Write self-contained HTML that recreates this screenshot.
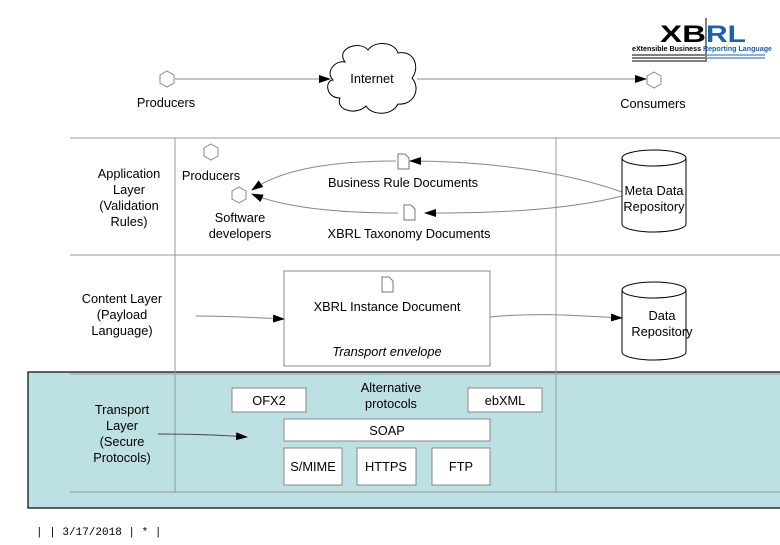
<!DOCTYPE html>
<html><head><meta charset="utf-8"><style>
body{margin:0;background:#fff;width:780px;height:540px;overflow:hidden}
text{font-family:"Liberation Sans",sans-serif;font-size:12.8px;fill:#000}
</style></head><body>
<svg width="780" height="540" viewBox="0 0 780 540" xmlns="http://www.w3.org/2000/svg">
<defs><marker id="a" markerWidth="12" markerHeight="8" refX="11" refY="4" orient="auto" markerUnits="userSpaceOnUse"><path d="M0,0 L12,4 L0,8 z" fill="#000"/></marker></defs>
<rect x="28" y="372" width="760" height="136" fill="#bde0e3" stroke="#000" stroke-width="1.2"/>
<g stroke="#999" stroke-width="1" fill="none">
<line x1="70" y1="138" x2="780" y2="138"/><line x1="70" y1="255" x2="780" y2="255"/>
<line x1="70" y1="374" x2="780" y2="374"/><line x1="70" y1="492" x2="780" y2="492"/>
<line x1="175" y1="138" x2="175" y2="492"/><line x1="556" y1="138" x2="556" y2="492"/>
</g>
<!-- logo -->
<text x="660" y="42" textLength="46" lengthAdjust="spacingAndGlyphs" style="font-size:24px;font-weight:900">XB</text>
<text x="706" y="42" textLength="40" lengthAdjust="spacingAndGlyphs" style="font-size:24px;font-weight:900;fill:#1d5fb0">RL</text>
<line x1="706" y1="18" x2="706" y2="62" stroke="#000"/>
<text x="632" y="51" textLength="140" lengthAdjust="spacingAndGlyphs" style="font-size:7px;font-weight:bold">eXtensible Business <tspan style="fill:#1d5fb0">Reporting Language</tspan></text>
<g stroke="#000"><line x1="632" y1="55" x2="705" y2="55"/><line x1="632" y1="58" x2="705" y2="58"/><line x1="632" y1="61" x2="705" y2="61"/></g>
<g stroke="#1d5fb0"><line x1="707" y1="55" x2="765" y2="55"/><line x1="707" y1="58" x2="765" y2="58"/></g>
<!-- top row -->
<g fill="#fff" stroke="#888">
<polygon points="167,71 174,75 174,83 167,87 160,83 160,75"/>
<polygon points="654,72 661,76 661,84 654,88 647,84 647,76"/>
<polygon points="211,144 218,148 218,156 211,160 204,156 204,148"/>
<polygon points="239,187 246,191 246,199 239,203 232,199 232,191"/>
</g>
<line x1="175" y1="79" x2="330" y2="79" stroke="#888" marker-end="url(#a)"/>
<line x1="417" y1="79" x2="646" y2="79" stroke="#888" marker-end="url(#a)"/>
<path d="M345,62 C335,48 360,40 368,50 C375,40 395,42 398,53 C415,50 420,68 412,78 C422,90 412,106 398,104 C392,116 372,116 366,106 C356,116 335,110 340,98 C325,98 325,80 333,80 C325,72 335,60 345,62 Z" fill="#fff" stroke="#000"/>
<text x="372" y="83" text-anchor="middle">Internet</text>
<text x="166" y="107" text-anchor="middle">Producers</text>
<text x="653" y="108" text-anchor="middle">Consumers</text>
<!-- application layer -->
<text x="129" y="178" text-anchor="middle">Application</text>
<text x="129" y="194" text-anchor="middle">Layer</text>
<text x="129" y="210" text-anchor="middle">(Validation</text>
<text x="129" y="226" text-anchor="middle">Rules)</text>
<text x="211" y="180" text-anchor="middle">Producers</text>
<text x="240" y="222" text-anchor="middle">Software</text>
<text x="240" y="238" text-anchor="middle">developers</text>
<path d="M622,192 C560,170 480,161 410,161" stroke="#888" fill="none" marker-end="url(#a)"/>
<path d="M396,161 C330,161 280,170 252,190" stroke="#888" fill="none" marker-end="url(#a)"/>
<path d="M622,196 C560,212 480,213 425,213" stroke="#888" fill="none" marker-end="url(#a)"/>
<path d="M398,213 C330,213 280,206 252,194" stroke="#888" fill="none" marker-end="url(#a)"/>
<g fill="#fff" stroke="#777">
<path d="M398,154 h7 l4,4 v11 h-11 z"/><path d="M404,205 h7 l4,4 v11 h-11 z"/><path d="M382,277 h7 l4,4 v11 h-11 z"/>
</g>
<text x="403" y="187" text-anchor="middle">Business Rule Documents</text>
<text x="409" y="238" text-anchor="middle">XBRL Taxonomy Documents</text>
<path d="M622,158 v66 a32,8 0 0 0 64,0 v-66 a32,8 0 0 0 -64,0 a32,8 0 0 0 64,0" fill="#fff" stroke="#000"/>
<text x="654" y="195" text-anchor="middle">Meta Data</text>
<text x="654" y="211" text-anchor="middle">Repository</text>
<!-- content layer -->
<text x="122" y="303" text-anchor="middle">Content Layer</text>
<text x="122" y="319" text-anchor="middle">(Payload</text>
<text x="122" y="335" text-anchor="middle">Language)</text>
<rect x="284" y="271" width="206" height="95" fill="#fff" stroke="#888"/>
<path d="M382,277 h7 l4,4 v11 h-11 z" fill="#fff" stroke="#777"/>
<text x="387" y="311" text-anchor="middle">XBRL Instance Document</text>
<text x="387" y="356" text-anchor="middle" font-style="italic">Transport envelope</text>
<path d="M196,316 C230,316 260,318 284,319" stroke="#888" fill="none" marker-end="url(#a)"/>
<path d="M490,317 C540,312 580,316 622,318" stroke="#888" fill="none" marker-end="url(#a)"/>
<path d="M622,290 v62 a32,8 0 0 0 64,0 v-62 a32,8 0 0 0 -64,0 a32,8 0 0 0 64,0" fill="#fff" stroke="#000"/>
<text x="662" y="320" text-anchor="middle">Data</text>
<text x="662" y="336" text-anchor="middle">Repository</text>
<!-- transport -->
<text x="122" y="414" text-anchor="middle">Transport</text>
<text x="122" y="430" text-anchor="middle">Layer</text>
<text x="122" y="446" text-anchor="middle">(Secure</text>
<text x="122" y="462" text-anchor="middle">Protocols)</text>
<path d="M158,434 C190,434 220,435 247,437" stroke="#444" fill="none" marker-end="url(#a)"/>
<g fill="#fff" stroke="#888">
<rect x="232" y="388" width="74" height="24"/><rect x="468" y="388" width="74" height="24"/>
<rect x="284" y="419" width="206" height="22"/>
<rect x="284" y="448" width="58" height="37"/><rect x="357" y="448" width="59" height="37"/><rect x="432" y="448" width="58" height="37"/>
</g>
<text x="269" y="405" text-anchor="middle">OFX2</text>
<text x="505" y="405" text-anchor="middle">ebXML</text>
<text x="391" y="392" text-anchor="middle">Alternative</text>
<text x="391" y="408" text-anchor="middle">protocols</text>
<text x="387" y="435" text-anchor="middle">SOAP</text>
<text x="313" y="471" text-anchor="middle">S/MIME</text>
<text x="386" y="471" text-anchor="middle">HTTPS</text>
<text x="461" y="471" text-anchor="middle">FTP</text>
<text x="36" y="535" style="font-family:'Liberation Mono',monospace;font-size:11px">|   | 3/17/2018 | * |</text>
</svg>
</body></html>
